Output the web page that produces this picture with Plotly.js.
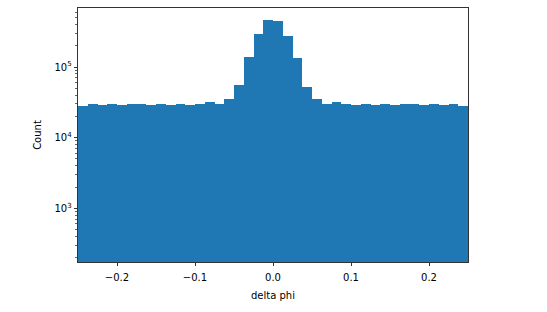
<!DOCTYPE html>
<html>
<head>
<meta charset="utf-8">
<script src="https://cdn.plot.ly/plotly-3.0.1.min.js"></script>
<style>html,body{margin:0;padding:0;background:#fff;}#chart{width:547px;height:312px;}</style>
</head>
<body>
<div id="chart"></div>
<script>
// Histogram of delta phi: 40 bins from -0.25 to 0.25
const binStart = -0.25;
const binWidth = 0.0125;
const counts = [
  28400, 30300, 29300, 30300, 29300, 30300, 30300, 29300, 30300, 29300,
  30300, 29300, 30300, 31700, 30300, 35300, 55100, 137000, 290000, 467000,
  452000, 277000, 135000, 51600, 35300, 30300, 31700, 30300, 29300, 30300,
  29300, 30300, 29300, 30300, 30300, 29300, 30300, 29300, 30300, 28400
];
const xTickVals = [-0.2, -0.1, 0.0, 0.1, 0.2];
const xTickText = ["\u22120.2", "\u22120.1", "0.0", "0.1", "0.2"];
const yTickVals = [1000, 10000, 100000];
const yTickText = ["10<sup>3</sup>", "10<sup>4</sup>", "10<sup>5</sup>"];

const centers = counts.map((_, i) => binStart + (i + 0.5) * binWidth);

const minorVals = [];
for (let d = 2; d <= 6; d++) {
  for (let m = 2; m <= 9; m++) minorVals.push(m * Math.pow(10, d));
}

const trace = {
  type: 'bar',
  x: centers,
  y: counts,
  width: binWidth,
  marker: {color: '#1f77b4', line: {width: 0}},
  hoverinfo: 'skip'
};

const font = {family: 'DejaVu Sans, sans-serif', size: 10, color: '#000'};

const layout = {
  width: 547, height: 312,
  margin: {l: 78, r: 79, t: 8, b: 50, pad: 0},
  paper_bgcolor: '#fff', plot_bgcolor: '#fff',
  showlegend: false,
  bargap: 0,
  font: font,
  xaxis: {
    range: [-0.25, 0.25],
    tickmode: 'array', tickvals: xTickVals, ticktext: xTickText,
    ticks: 'outside', ticklen: 3.5, tickwidth: 0.8, tickcolor: '#000',
    ticklabelstandoff: 3,
    showgrid: false, zeroline: false,
    showline: true, linecolor: '#000', linewidth: 0.8, mirror: true,
    tickfont: font,
    title: {text: 'delta phi', font: font, standoff: 9}
  },
  yaxis: {
    type: 'log',
    range: [2.24, 5.835],
    tickmode: 'array', tickvals: yTickVals, ticktext: yTickText,
    ticks: 'outside', ticklen: 3.5, tickwidth: 0.8, tickcolor: '#000',
    minor: {tickmode: 'array', tickvals: minorVals, ticks: 'outside', ticklen: 2, tickwidth: 0.6, tickcolor: '#000', showgrid: false},
    showgrid: false, zeroline: false,
    showline: true, linecolor: '#000', linewidth: 0.8, mirror: true,
    tickfont: font,
    title: {text: 'Count', font: font, standoff: 10}
  }
};

Plotly.newPlot('chart', [trace], layout, {displayModeBar: false, staticPlot: true});
</script>
</body>
</html>
